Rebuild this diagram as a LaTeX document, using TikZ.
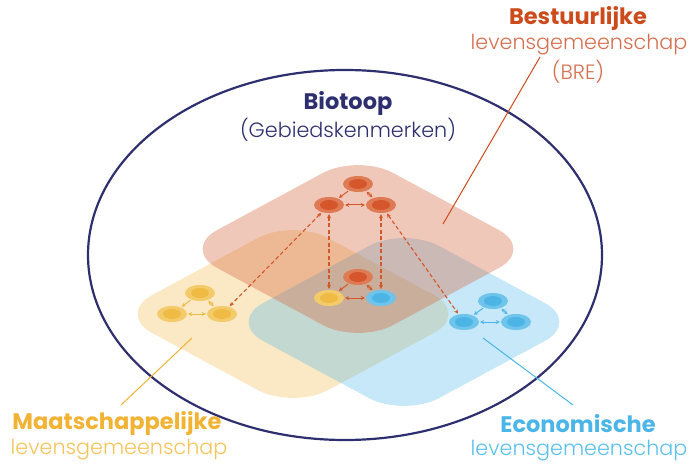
\documentclass[tikz,border=0pt]{standalone}
\usepackage{fontspec}
\setmainfont{Poppins}
\IfFontExistsTF{Poppins Light}{\newfontfamily\lightfont{Poppins Light}}{\newfontfamily\lightfont{Poppins}}
\usetikzlibrary{arrows.meta,shapes.geometric}

\definecolor{navy}{RGB}{46,47,110}
\definecolor{breorange}{RGB}{212,98,58}
\definecolor{bretext}{RGB}{204,75,28}
\definecolor{brelight}{RGB}{214,112,80}
\definecolor{breouter}{RGB}{222,123,85}
\definecolor{breinner}{RGB}{212,86,42}
\definecolor{mayellow}{RGB}{242,179,61}
\definecolor{matext}{RGB}{242,178,51}
\definecolor{malight}{RGB}{245,196,90}
\definecolor{maouter}{RGB}{244,203,106}
\definecolor{mainner}{RGB}{240,187,69}
\definecolor{ecblue}{RGB}{77,182,232}
\definecolor{ectext}{RGB}{74,181,230}
\definecolor{eclight}{RGB}{91,192,236}
\definecolor{ecouter}{RGB}{111,196,236}
\definecolor{ecinner}{RGB}{77,181,230}

\tikzset{
	title/.style={font=\fontsize{22.5}{26}\selectfont\bfseries},
	sub/.style={font=\fontsize{20.7}{24}\selectfont\lightfont},
	net/.style={ellipse, minimum width=30pt, minimum height=16pt, inner sep=0pt},
	brenet/.style={net, fill=breouter, path picture={\fill[breinner] (path picture bounding box.center) ellipse (9pt and 5pt);}},
	manet/.style={net, fill=maouter, path picture={\fill[mainner] (path picture bounding box.center) ellipse (9pt and 5pt);}},
	ecnet/.style={net, fill=ecouter, path picture={\fill[ecinner] (path picture bounding box.center) ellipse (9pt and 5pt);}},
	link/.style={line width=1pt, shorten <=1pt, shorten >=1pt},
	jump/.style={line width=1.1pt, breinner, dash pattern=on 4pt off 2.5pt, <->, shorten <=1pt, shorten >=1pt}
}

\begin{document}
\begin{tikzpicture}[x=1pt,y=-1pt,>={Stealth[length=4pt,width=4pt]}]

	\useasboundingbox (0,0) rectangle (691,465);

	\pgfmathsetmacro{\brex}{358}
	\pgfmathsetmacro{\brey}{249}
	\pgfmathsetmacro{\max}{293}
	\pgfmathsetmacro{\may}{314}
	\pgfmathsetmacro{\ecx}{404}
	\pgfmathsetmacro{\ecy}{322}

	% layers
	\fill[mayellow,fill opacity=0.3,rounded corners=40pt] (\max,\may) ++(-88,47.5) -- ++(-88,-47.5) -- ++(176,-95) -- ++(176,95) -- ++(-176,95) -- cycle;
	\fill[ecblue,fill opacity=0.32,rounded corners=40pt] (\ecx,\ecy) ++(-88,47.5) -- ++(-88,-47.5) -- ++(176,-95) -- ++(176,95) -- ++(-176,95) -- cycle;
	\fill[breorange,fill opacity=0.35,rounded corners=40pt] (\brex,\brey) ++(-88,47.5) -- ++(-88,-47.5) -- ++(176,-95) -- ++(176,95) -- ++(-176,95) -- cycle;

	% biotoop
	\draw[navy,line width=2.2pt] (345,255) ellipse (257 and 185);
	\node[title,text=navy] (bio) at (348,103) {Biotoop};
	\node[sub,text=navy] (biosub) at (348,130) {(Gebiedskenmerken)};

	% nodes for the bre
	\node[brenet] (bt) at (358,184) {};
	\node[brenet] (bl) at (329,205) {};
	\node[brenet] (br) at (381,205) {};
	% nodes in the middle
	\node[brenet] (mt) at (358,277) {};
	\node[manet] (ml) at (329,298) {};
	\node[ecnet] (mr) at (381,298) {};
	% nodes for the maatschappelijke
	\node[manet] (yt) at (200,293) {};
	\node[manet] (yl) at (172,314) {};
	\node[manet] (yr) at (222,314) {};
	% nodes for the economische
	\node[ecnet] (et) at (493,301) {};
	\node[ecnet] (el) at (464,322) {};
	\node[ecnet] (er) at (516,322) {};

	% links inside
	\draw[link,breinner,->] (bt) -- (bl);
	\draw[link,breinner,<->] (bt) -- (br);
	\draw[link,breinner,<->] (bl) -- (br);
	\draw[link,breinner,->] (mt) -- (ml);
	\draw[link,breinner,<->] (mt) -- (mr);
	\draw[link,breinner,<->] (ml) -- (mr);
	\draw[link,mainner,->] (yt) -- (yl);
	\draw[link,mainner,<->] (yt) -- (yr);
	\draw[link,mainner,<->] (yl) -- (yr);
	\draw[link,ecinner,->] (et) -- (el);
	\draw[link,ecinner,<->] (et) -- (er);
	\draw[link,ecinner,<->] (el) -- (er);

	% dashed links between layers
	\draw[jump] (bl) -- (yr);
	\draw[jump] (bl) -- (ml);
	\draw[jump] (br) -- (mr);
	\draw[jump] (br) -- (el);

	% labels
	\node[title,text=bretext] (bretitle) at (578,18) {Bestuurlijke};
	\node[sub,text=brelight] (brelev) at (579,45) {levensgemeenschap};
	\node[sub,text=brelight] (brebre) at (578,72) {(BRE)};
	\node[title,text=matext] (matitle) at (117,423) {Maatschappelijke};
	\node[sub,text=malight] (malev) at (119,450) {levensgemeenschap};
	\node[title,text=ectext] (ectitle) at (578,424) {Economische};
	\node[sub,text=eclight] (eclev) at (579,451) {levensgemeenschap};

	% leader lines
	\coordinate (brein) at (443,224);
	\coordinate (breout) at (540,57);
	\coordinate (main) at (192,338);
	\coordinate (maout) at (121,405);
	\coordinate (ecin) at (483,338);
	\coordinate (ecout) at (573,405);
	\draw[bretext,line width=1pt] (brein) -- (breout);
	\draw[matext,line width=1pt] (main) -- (maout);
	\draw[ectext,line width=1pt] (ecin) -- (ecout);

\end{tikzpicture}
\end{document}
